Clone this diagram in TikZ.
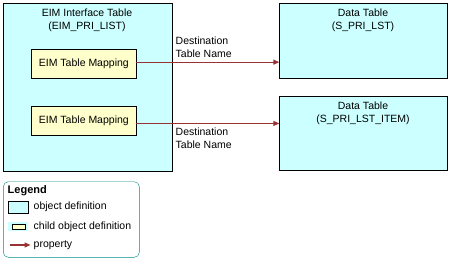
\documentclass[tikz,border=0pt]{standalone}
\usepackage{fontspec}
\setmainfont{Liberation Sans}
\usetikzlibrary{arrows.meta}
\definecolor{objcyan}{HTML}{CCFFFF}
\definecolor{childyellow}{HTML}{FFFFCC}
\definecolor{propred}{HTML}{993333}
\definecolor{legendteal}{HTML}{008B8B}
\begin{document}
\begin{tikzpicture}[x=1pt, y=-1pt, >={Triangle[length=6pt, width=5pt]},
		font=\fontsize{10.5}{13}\selectfont,
		objbox/.style={draw, fill=objcyan, inner sep=0pt, anchor=north west},
		childbox/.style={draw, fill=childyellow, inner sep=0pt, anchor=north west, minimum width=104.7pt, minimum height=28.3pt},
		boxtitle/.style={align=center, inner sep=0pt},
		proplabel/.style={align=left, anchor=west, inner sep=0pt},
		prop/.style={->, propred, line width=1.1pt},
		legendtext/.style={anchor=west, inner sep=0pt}]
	\useasboundingbox (0,0) rectangle (449,260);
	\node[objbox, minimum width=168.4pt, minimum height=167.4pt] (eim) at (3.3,3.3) {};
	\node[boxtitle] (eimtitle) at (87,20.5) {EIM Interface Table\\(EIM\_PRI\_LIST)};
	\node[childbox] (map1) at (31.3,49.3) {EIM Table Mapping};
	\node[childbox] (map2) at (31.3,106.3) {EIM Table Mapping};
	\node[objbox, minimum width=167.4pt, minimum height=75pt] (dt1) at (279.3,3.3) {};
	\node[boxtitle] (dt1title) at (363,20.5) {Data Table\\(S\_PRI\_LST)};
	\node[objbox, minimum width=167.4pt, minimum height=74.6pt] (dt2) at (279.3,95.7) {};
	\node[boxtitle] (dt2title) at (363,113) {Data Table\\(S\_PRI\_LST\_ITEM)};
	\draw[prop] ([yshift=1.5pt]map1.east) -- ([yshift=1.5pt]map1.east -| dt1.west);
	\draw[prop] ([yshift=-2.8pt]map2.east) -- ([yshift=-2.8pt]map2.east -| dt2.west);
	\node[proplabel] (lab1) at (175.5,47.5) {Destination\\Table Name};
	\node[proplabel] (lab2) at (175.5,138.5) {Destination\\Table Name};
	% legend
	\draw[legendteal, rounded corners=5pt] (3.3,181.7) rectangle (139.3,257.3);
	\node[legendtext, font=\fontsize{11}{13}\selectfont\bfseries] (legend) at (7.5,190.5) {Legend};
	\node[draw, fill=objcyan, minimum width=20pt, minimum height=12pt, inner sep=0pt] (objicon) at (18.3,206.7) {};
	\node[legendtext] (objtext) at (33.5,207) {object definition};
	\node[fill=objcyan, minimum width=20pt, minimum height=9.5pt, inner sep=0pt] (childback) at (18.3,226.4) {};
	\node[draw, fill=childyellow, minimum width=13pt, minimum height=5pt, inner sep=0pt] (childicon) at (childback) {};
	\node[legendtext] (childtext) at (33.5,226.5) {child object definition};
	\coordinate (propstart) at (10,245);
	\coordinate (propend) at (30.5,245);
	\draw[prop] (propstart) -- (propend);
	\node[legendtext] (proptext) at (33.5,245) {property};
\end{tikzpicture}
\end{document}
